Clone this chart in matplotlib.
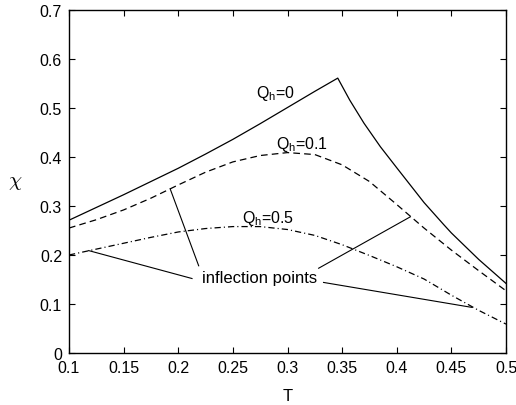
import matplotlib
matplotlib.use("Agg")
import matplotlib.pyplot as plt

plt.rcParams['font.family'] = ['Liberation Sans', 'DejaVu Sans']
plt.rcParams['lines.scale_dashes'] = False

# chi(T) for three values of Q_h
T_q0 = [0.100, 0.125, 0.150, 0.175, 0.200, 0.225, 0.250, 0.275, 0.300, 0.325,
        0.346, 0.357, 0.370, 0.385, 0.400, 0.425, 0.443, 0.450, 0.475, 0.500]
chi_q0 = [0.271, 0.297, 0.323, 0.350, 0.377, 0.406, 0.436, 0.468, 0.501, 0.534,
          0.561, 0.516, 0.469, 0.421, 0.378, 0.307, 0.262, 0.245, 0.191, 0.142]

T_q01 = [0.100, 0.125, 0.150, 0.175, 0.200, 0.225, 0.250, 0.275, 0.300, 0.325,
         0.350, 0.375, 0.400, 0.425, 0.450, 0.475, 0.500]
chi_q01 = [0.255, 0.272, 0.292, 0.316, 0.343, 0.369, 0.390, 0.403, 0.409, 0.405,
           0.384, 0.350, 0.303, 0.255, 0.210, 0.168, 0.127]

T_q05 = [0.100, 0.125, 0.150, 0.175, 0.200, 0.225, 0.250, 0.275, 0.300, 0.325,
         0.350, 0.375, 0.400, 0.425, 0.450, 0.475, 0.500]
chi_q05 = [0.200, 0.212, 0.224, 0.236, 0.247, 0.254, 0.258, 0.258, 0.252, 0.240,
           0.221, 0.199, 0.176, 0.151, 0.118, 0.087, 0.059]

curve_labels = [r'Q$_\mathregular{h}$=0', r'Q$_\mathregular{h}$=0.1',
                r'Q$_\mathregular{h}$=0.5']
label_pos = [(0.289, 0.532), (0.313, 0.428), (0.282, 0.277)]

# inflection points and where their pointer lines end near the text
infl_pts = [(0.118, 0.209), (0.1926, 0.335), (0.4125, 0.278), (0.469, 0.093)]
infl_tails = [(0.2126, 0.152), (0.2187, 0.178), (0.3285, 0.173), (0.333, 0.144)]
infl_text = 'inflection points'
infl_text_pos = (0.274, 0.1545)

xticks = [0.1, 0.15, 0.2, 0.25, 0.3, 0.35, 0.4, 0.45, 0.5]
xtick_labels = ['0.1', '0.15', '0.2', '0.25', '0.3', '0.35', '0.4', '0.45', '0.5']
yticks = [0, 0.1, 0.2, 0.3, 0.4, 0.5, 0.6, 0.7]
ytick_labels = ['0', '0.1', '0.2', '0.3', '0.4', '0.5', '0.6', '0.7']

fig = plt.figure(figsize=(5.16, 4.06), dpi=100)
ax = fig.add_axes([69/516, 1-354/406, 437/516, 343/406])

lw = 0.9
ax.plot(T_q0, chi_q0, color='black', lw=lw)
ax.plot(T_q01, chi_q01, color='black', lw=lw, dashes=(4.8, 3.0))
ax.plot(T_q05, chi_q05, color='black', lw=lw, dashes=(4.5, 2.2, 0.8, 2.2))

for txt, (x, y) in zip(curve_labels, label_pos):
    ax.text(x, y, txt, fontsize=11.5, ha='center', va='center')

for (x0, y0), (x1, y1) in zip(infl_pts, infl_tails):
    ax.plot([x0, x1], [y0, y1], color='black', lw=0.8)
ax.text(infl_text_pos[0], infl_text_pos[1], infl_text, fontsize=12,
        ha='center', va='center')

ax.set_xlim(0.1, 0.5)
ax.set_ylim(0, 0.7)
ax.set_xticks(xticks)
ax.set_xticklabels(xtick_labels)
ax.set_yticks(yticks)
ax.set_yticklabels(ytick_labels)
ax.tick_params(direction='in', top=True, right=True, length=4, width=0.8,
               labelsize=11.5, pad=5)
for s in ax.spines.values():
    s.set_linewidth(1.0)

ax.set_xlabel('T', fontsize=12, va='center')
ax.xaxis.set_label_coords(0.5, -0.125)
ax.set_ylabel(r'$\chi$', fontsize=15, rotation=0, va='center', math_fontfamily='cm')
ax.yaxis.set_label_coords(-0.124, 0.5)

fig.savefig('out.png', dpi=100)
